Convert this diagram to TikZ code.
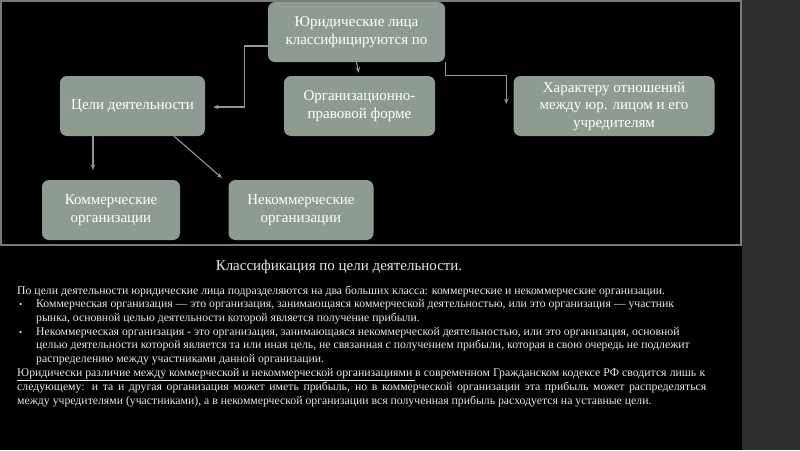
\documentclass[tikz,border=0pt]{standalone}
\usepackage{fontspec}
\setmainfont{Liberation Serif}
\usetikzlibrary{calc,arrows.meta}
\definecolor{boxc}{HTML}{8E9B90}
\definecolor{stripc}{HTML}{2E2E2E}
\definecolor{framec}{HTML}{7A7A7A}
\definecolor{txtc}{HTML}{E8E8E8}
\tikzset{
  box/.style={fill=boxc, rounded corners=7pt, text=white, align=center, inner sep=0pt,
    minimum height=60pt, font=\fontsize{15}{17.5}\selectfont},
  conn/.style={draw=boxc, line width=1.1pt, -{Stealth[length=5.5pt,width=4.5pt]}},
  ln/.style={anchor=base west, inner sep=0pt, text=txtc, font=\fontsize{11.75}{13}\selectfont},
  bul/.style={anchor=base west, inner sep=0pt, text=txtc, font=\fontsize{9}{13}\selectfont}
}
\begin{document}
\begin{tikzpicture}[x=1pt,y=-1pt]
\useasboundingbox (0,0) rectangle (800,450);
\fill[black] (0,0) rectangle (800,450);
\fill[stripc] (742,0) rectangle (800,450);
\draw[framec, line width=1.5pt] (1,1) rectangle (741,245);

\node[box, minimum width=177pt] (top) at (356.5,32) {Юридические лица\\классифицируются по};
\node[box, minimum width=145pt] (cel) at (132.5,106) {Цели деятельности};
\node[box, minimum width=151pt] (org) at (359.5,106) {Организационно-\\правовой форме};
\node[box, minimum width=201pt] (har) at (614,106) {Характеру отношений\\между юр. лицом и его\\учредителям};
\node[box, minimum width=138pt] (kom) at (111,210) {Коммерческие\\организации};
\node[box, minimum width=145pt] (nek) at (301,210) {Некоммерческие\\организации};

\coordinate (e1) at ($(cel.east)+(8,1)$);
\draw[conn] ($(top.west)+(0,14)$) -| ($(e1)+(31,0)$) -- (e1);
\draw[conn, shorten >=3pt] (top.south) -- (org.north);
\coordinate (e3) at ($(har.west)+(-7,-2)$);
\draw[conn] (top.south east) -- ++(0,13) -| (e3);
\coordinate (e4) at (93,170);
\draw[conn] (cel.south -| e4) -- (e4);
\coordinate (e5) at (222,178);
\draw[conn] ($(cel.south)+(41.5,0)$) -- (e5);

\node[anchor=base, inner sep=0pt, text=txtc, font=\fontsize{15}{17}\selectfont] (ttl) at (339,270) {Классификация по цели деятельности.};

\node[ln] (l1) at (17,294) {По цели деятельности юридические лица подразделяются на два больших класса: коммерческие и некоммерческие организации.};
\node[bul] (b1) at (19,307.5) {•};
\node[ln] (l2) at (36,307.5) {Коммерческая организация — это организация, занимающаяся коммерческой деятельностью, или это организация — участник};
\node[ln] (l3) at (36,321) {рынка, основной целью деятельности которой является получение прибыли.};
\node[bul] (b2) at (19,335) {•};
\node[ln] (l4) at (36,335) {Некоммерческая организация - это организация, занимающаяся некоммерческой деятельностью, или это организация, основной};
\node[ln] (l5) at (36,348.5) {целью деятельности которой является та или иная цель, не связанная с получением прибыли, которая в свою очередь не подлежит};
\node[ln] (l6) at (36,362) {распределению между участниками данной организации.};
\node[ln] (l7) at (17,376) {\hbox to 688pt{\underline{Юридически различие между коммерческой и некоммерческой организациями\ }в современном Гражданском кодексе РФ сводится лишь к}};
\node[ln] (l8) at (17,390) {\hbox to 689pt{следующему: и та и другая организация может иметь прибыль, но в коммерческой организации эта прибыль может распределяться}};
\node[ln] (l9) at (17,404) {между учредителями (участниками), а в некоммерческой организации вся полученная прибыль расходуется на уставные цели.};
\end{tikzpicture}
\end{document}
